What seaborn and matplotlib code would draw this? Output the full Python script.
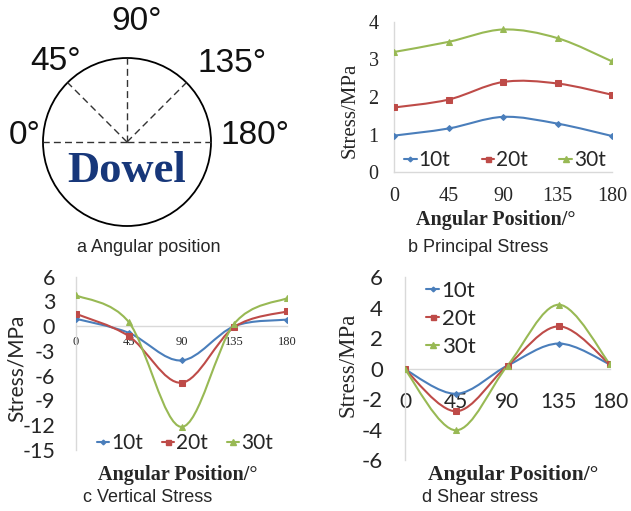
import numpy as np
import pandas as pd
import matplotlib
matplotlib.use("Agg")
import matplotlib.pyplot as plt
import seaborn as sns
from matplotlib.path import Path
from matplotlib.patches import PathPatch, Circle
from matplotlib.lines import Line2D

# ---------------- data ----------------
angles = [0, 45, 90, 135, 180]
loads = ["10t", "20t", "30t"]

principal_10t = [0.97, 1.16, 1.47, 1.29, 0.96]
principal_20t = [1.72, 1.93, 2.40, 2.36, 2.06]
principal_30t = [3.20, 3.47, 3.80, 3.57, 2.95]

vertical_10t = [0.9, -0.8, -4.15, 0.0, 0.8]
vertical_20t = [1.5, -1.2, -6.85, -0.1, 1.8]
vertical_30t = [3.75, 0.5, -12.2, 0.3, 3.4]

shear_10t = [-0.05, -1.65, 0.2, 1.65, 0.28]
shear_20t = [-0.05, -2.8, 0.2, 2.78, 0.28]
shear_30t = [-0.05, -4.05, 0.2, 4.2, 0.28]

b_yticks = [0, 1, 2, 3, 4]
c_yticks = [6, 3, 0, -3, -6, -9, -12, -15]
d_yticks = [6, 4, 2, 0, -2, -4, -6]

colors = {"10t": "#4a7ebb", "20t": "#be4b48", "30t": "#98b954"}
markers = {"10t": "D", "20t": "s", "30t": "^"}
msizes = {"10t": 3.0, "20t": 4.5, "30t": 5.0}

W, H = 631, 511
sns.set_style("white")
SANS = ["Lato", "DejaVu Sans"]
ARIAL = ["Liberation Sans", "DejaVu Sans"]
SERIF = ["Liberation Serif", "DejaVu Serif"]
plt.rcParams["font.family"] = ARIAL
plt.rcParams["axes.unicode_minus"] = False

fig = plt.figure(figsize=(W / 100, H / 100), dpi=100)


def fx(px):
    return px / W


def fy(py):
    return 1 - py / H


def add_axes_px(x0, x1, ytop, ybot):
    return fig.add_axes([fx(x0), fy(ybot), (x1 - x0) / W, (ybot - ytop) / H])


def smooth_path(x, y):
    pts = np.column_stack([x, y]).astype(float)
    n = len(pts)
    verts = [pts[0]]
    codes = [Path.MOVETO]
    for i in range(n - 1):
        p0 = pts[i - 1] if i > 0 else pts[i]
        p1 = pts[i]
        p2 = pts[i + 1]
        p3 = pts[i + 2] if i + 2 < n else pts[i + 1]
        verts += [p1 + (p2 - p0) / 6.0, p2 - (p3 - p1) / 6.0, p2]
        codes += [Path.CURVE4] * 3
    return Path(verts, codes)


def draw_series(ax, series):
    frames = []
    for name, vals in zip(loads, series):
        frames.append(pd.DataFrame({"angle": angles, "stress": vals, "load": name}))
    df = pd.concat(frames, ignore_index=True)
    for name in loads:
        sub = df[df["load"] == name]
        ax.add_patch(PathPatch(smooth_path(sub["angle"], sub["stress"]),
                               facecolor="none", edgecolor=colors[name],
                               lw=1.5, zorder=3))
        sns.lineplot(data=sub, x="angle", y="stress", ax=ax, color=colors[name],
                     marker=markers[name], markersize=msizes[name],
                     markeredgecolor=colors[name], lw=0, legend=False, zorder=4)


def legend_handles():
    return [Line2D([], [], color=colors[n], marker=markers[n],
                   markersize=msizes[n] * 0.8, lw=1.5) for n in loads]


def style_axes(ax):
    for s in ["top", "right"]:
        ax.spines[s].set_visible(False)
    for s in ["left", "bottom"]:
        ax.spines[s].set_color("#d9d9d9")
        ax.spines[s].set_linewidth(1.0)
    ax.set_xlabel("")
    ax.set_ylabel("")
    ax.set_xticks(angles)
    ax.tick_params(length=0)
    ax.set_xlim(0, 180)
    ax.patch.set_alpha(0)


# ---------------- panel a ----------------
axa = fig.add_axes([0, fy(255.5), 315.5 / W, 255.5 / H])
axa.set_xlim(0, 315.5)
axa.set_ylim(255.5, 0)
axa.axis("off")
cx, cy, r = 127, 142, 84
axa.add_patch(Circle((cx, cy), r, fill=False, ec="black", lw=1.3))
for ang in [0, 45, 90, 135, 180]:
    t = np.deg2rad(180 - ang)
    axa.plot([cx, cx + r * np.cos(t)], [cy, cy - r * np.sin(t)],
             ls=(0, (5, 3)), color="#333333", lw=1.0)
for txt, x, y in [("90°", 137, 22), ("45°", 56, 61), ("135°", 232, 64),
                  ("0°", 25, 136), ("180°", 255, 136)]:
    axa.text(x, y, txt, ha="center", va="center", fontsize=24, family=ARIAL,
             color="#111111")
axa.text(cx, 171, "Dowel", ha="center", va="center", fontsize=32,
         family=SERIF, weight="bold", color="#17377a")

# ---------------- panel b ----------------
axb = add_axes_px(394, 612, 22, 172)
draw_series(axb, [principal_10t, principal_20t, principal_30t])
style_axes(axb)
axb.set_ylim(0, 4)
axb.set_yticks(b_yticks)
axb.tick_params(axis="x", pad=11)
axb.tick_params(axis="y", pad=11)
for lab in axb.get_xticklabels() + axb.get_yticklabels():
    lab.set_family(SERIF)
    lab.set_fontsize(14.5)
axb.legend(legend_handles(), loads, ncol=3, frameon=False, prop={"family": SANS, "size": 15},
           handlelength=0.6, handletextpad=0.1, columnspacing=1.5,
           loc="center", bbox_to_anchor=(fx(505), fy(160)), bbox_transform=fig.transFigure)

# ---------------- panel c ----------------
axc = add_axes_px(76, 287, 276.7, 450)
draw_series(axc, [vertical_10t, vertical_20t, vertical_30t])
style_axes(axc)
axc.set_ylim(-15, 6)
axc.set_yticks(c_yticks)
axc.spines["bottom"].set_position(("data", 0))
axc.tick_params(axis="x", pad=7)
axc.tick_params(axis="y", pad=15)
for lab in axc.get_xticklabels():
    lab.set_family(SERIF)
    lab.set_fontsize(9)
for lab in axc.get_yticklabels():
    lab.set_family(SANS)
    lab.set_fontsize(15.5)
axc.legend(legend_handles(), loads, ncol=3, frameon=False, prop={"family": SANS, "size": 15},
           handlelength=0.6, handletextpad=0.1, columnspacing=0.9,
           loc="center", bbox_to_anchor=(fx(185), fy(443)), bbox_transform=fig.transFigure)

# ---------------- panel d ----------------
axd = add_axes_px(405, 610, 277.3, 460)
draw_series(axd, [shear_10t, shear_20t, shear_30t])
style_axes(axd)
axd.set_ylim(-6, 6)
axd.set_yticks(d_yticks)
axd.spines["bottom"].set_position(("data", 0))
axd.tick_params(axis="x", pad=17)
axd.tick_params(axis="y", pad=16)
for lab in axd.get_xticklabels():
    lab.set_family(SANS)
    lab.set_fontsize(15)
for lab in axd.get_yticklabels():
    lab.set_family(SANS)
    lab.set_fontsize(16)
axd.legend(legend_handles(), loads, ncol=1, frameon=False, prop={"family": SANS, "size": 16},
           handlelength=0.6, handletextpad=0.1, labelspacing=0.35,
           borderpad=0, borderaxespad=0,
           loc="upper left", bbox_to_anchor=(fx(426), fy(281)), bbox_transform=fig.transFigure)

# ---------------- axis titles ----------------
for x, y in [(496, 220), (178, 475), (513, 475)]:
    fig.text(fx(x), fy(y), "Angular Position/°", ha="center", va="center",
             family=SERIF, weight="bold", fontsize=14.5 if x != 513 else 15.5)
fig.text(fx(350), fy(110), "Stress/MPa", rotation=90, ha="center", va="center",
         family=SERIF, fontsize=15)
fig.text(fx(17), fy(368), "Stress/MPa", rotation=90, ha="center", va="center",
         family=SANS, fontsize=15)
fig.text(fx(348), fy(365), "Stress/MPa", rotation=90, ha="center", va="center",
         family=SERIF, fontsize=16.5)

# ---------------- captions ----------------
for txt, x, y in [("a Angular position", 149, 247), ("b Principal Stress", 478, 248),
                  ("c Vertical Stress", 148, 497), ("d Shear stress", 480, 497)]:
    fig.text(fx(x), fy(y), txt, ha="center", va="center", family=ARIAL, fontsize=13)

fig.savefig("out.png", dpi=100)
